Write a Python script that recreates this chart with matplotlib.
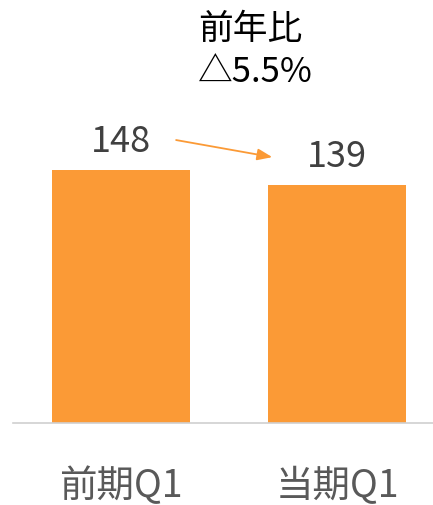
import matplotlib
matplotlib.use('Agg')
import matplotlib.pyplot as plt

plt.rcParams['font.family'] = ['Noto Sans CJK JP', 'DejaVu Sans']

categories = ['前期Q1', '当期Q1']
values = [148, 139]
yoy_label = '前年比\n△5.5%'

BAR = '#FB9A36'

fig = plt.figure(figsize=(4.33, 5.06), dpi=100)
ax = fig.add_axes([13 / 433, 82 / 506, 420 / 433, 424 / 506])

x = range(len(categories))
bars = ax.bar(x, values, width=0.64, color=BAR, zorder=2)

ax.set_xlim(-0.5, 1.444)
ax.set_ylim(0, 248)

# value labels above bars
for bar, val in zip(bars, values):
    ax.text(bar.get_x() + bar.get_width() / 2, val + 6.5, f'{val}',
            ha='center', va='bottom', fontsize=26, color='#404040')

# arrow from the previous value towards the current one
ax.annotate('', xy=(0.70, 155.5), xytext=(0.255, 165.5),
            arrowprops=dict(arrowstyle='-|>,head_length=0.9,head_width=0.35',
                            color=BAR, lw=1.3, shrinkA=0, shrinkB=0))

fig.text(198 / 433, 1 - 12 / 506, yoy_label, ha='left', va='top',
         multialignment='left', fontsize=25, color='black', linespacing=1.3)

ax.set_xticks(list(x))
ax.set_xticklabels(categories, fontsize=27, color='#595959')
ax.tick_params(axis='x', length=0, pad=31)
ax.set_yticks([])

for side in ['top', 'right', 'left']:
    ax.spines[side].set_visible(False)
ax.spines['bottom'].set_color('#D0D0D0')
ax.spines['bottom'].set_linewidth(1.2)

plt.savefig('out.png', dpi=100)
